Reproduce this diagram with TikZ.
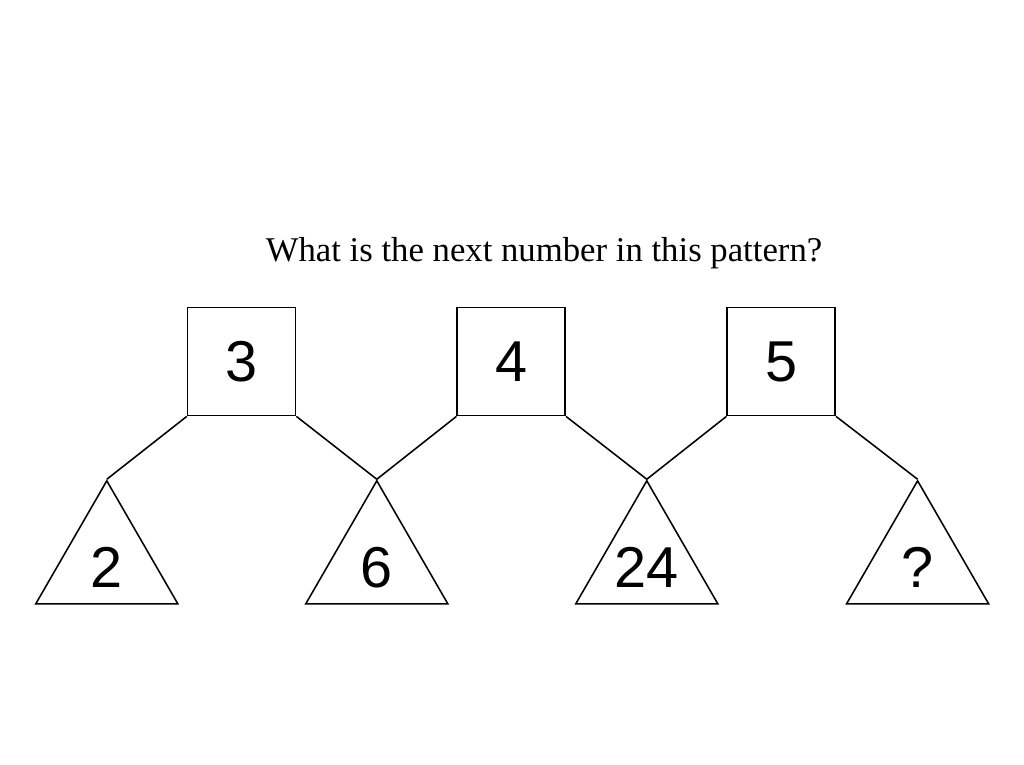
\documentclass[tikz,border=0pt]{standalone}
\usepackage{fontspec}
\setmainfont{Liberation Serif}
\newfontfamily\digits{Liberation Sans}
\usetikzlibrary{shapes.geometric}

\begin{document}
\begin{tikzpicture}[
    box/.style={rectangle, draw, minimum size=2.7cm, inner sep=0, font=\digits\fontsize{41}{48}\selectfont},
    tri/.style={regular polygon, regular polygon sides=3, draw, minimum size=4.1cm, inner sep=0},
    num/.style={inner sep=0, font=\digits\fontsize{41}{48}\selectfont}
]
    \useasboundingbox (0,0) rectangle (25.6,-19.1);
    \draw[line width=1.1pt]
    (13.6,-6.53)node[anchor=base, font=\fontsize{24.7}{30}\selectfont](q){What is the next number in this pattern?}
    (6.04,-9.04)node[box](s1){3}
    (12.78,-9.04)node[box](s2){4}
    (19.53,-9.04)node[box](s3){5}
    (2.67,-14.07)node[tri](t1){}
    (9.42,-14.07)node[tri](t2){}
    (16.17,-14.07)node[tri](t3){}
    (22.94,-14.07)node[tri](t4){}
    ([yshift=-0.12cm]t1.center)node[num](n1){2}
    ([yshift=-0.12cm]t2.center)node[num](n2){6}
    ([yshift=-0.12cm]t3.center)node[num](n3){24}
    ([yshift=-0.12cm]t4.center)node[num](n4){?}
    (s1.south west) -- (t1.corner 1)
    (s1.south east) -- (t2.corner 1)
    (s2.south west) -- (t2.corner 1)
    (s2.south east) -- (t3.corner 1)
    (s3.south west) -- (t3.corner 1)
    (s3.south east) -- (t4.corner 1)
    ;
\end{tikzpicture}
\end{document}
